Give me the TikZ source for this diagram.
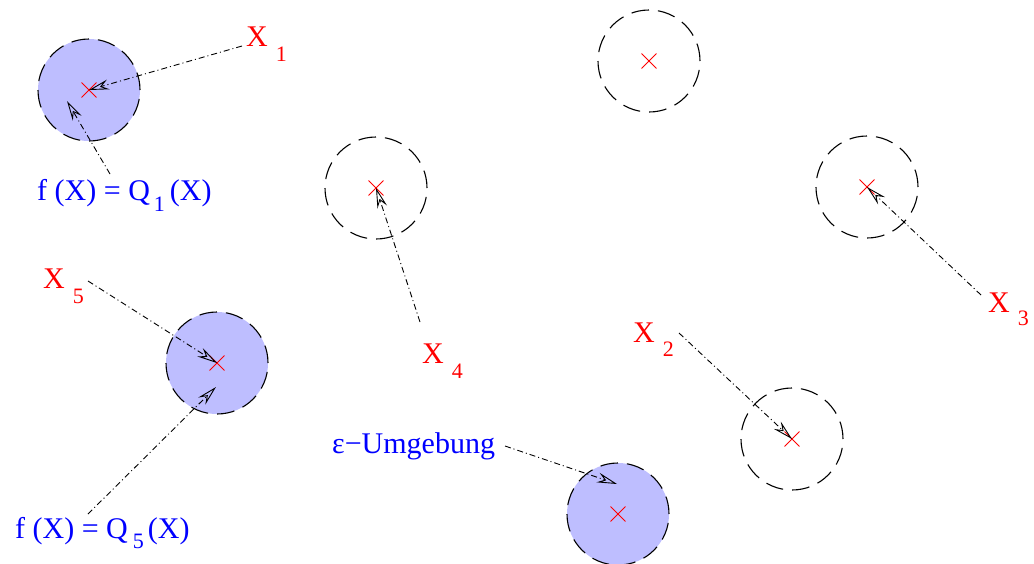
\documentclass[tikz,border=0pt]{standalone}
\usepackage{fontspec}
\setmainfont{Liberation Serif}
\usetikzlibrary{arrows.meta,shapes.misc}
\definecolor{zone}{RGB}{190,190,255}
\newcommand\subx[2][15pt]{\hspace{8pt}\raisebox{-#1}{\fontsize{22}{24}\selectfont #2}}
\begin{document}
\begin{tikzpicture}[x=1pt,y=-1pt,
  zonecirc/.style={circle, draw=black, line width=1.1pt, dash pattern=on 17.7pt off 9pt, minimum size=102pt, inner sep=0pt},
  filledzone/.style={zonecirc, fill=zone},
  pt/.style={cross out, draw=red, line width=0.9pt, minimum size=14pt, inner sep=0pt},
  ptr/.style={line width=0.9pt, dash pattern=on 6pt off 3pt on 1pt off 3pt, -{Stealth[open,length=20pt,width=10pt,inset=7pt]}},
  xlab/.style={text=red, anchor=base west, inner sep=0pt, font=\fontsize{30}{36}\selectfont},
  qlab/.style={text=blue, anchor=base west, inner sep=0pt, font=\fontsize{30}{36}\selectfont}]
\useasboundingbox (0,0) rectangle (1034,563);

% circles
\node[filledzone] (c1) at (89,90) {};
\node[zonecirc] (c6) at (649,61) {};
\node[zonecirc] (c4) at (376,188) {};
\node[zonecirc] (c3) at (867,187) {};
\node[filledzone] (c5) at (217,363) {};
\node[zonecirc] (c2) at (792,439) {};
\node[filledzone] (ce) at (618,514) {};

% points
\node[pt] (p1) at (c1.center) {};
\node[pt] (p6) at (c6.center) {};
\node[pt] (p4) at (c4.center) {};
\node[pt] (p3) at (c3.center) {};
\node[pt] (p5) at (c5.center) {};
\node[pt] (p2) at (c2.center) {};
\node[pt] (pe) at (ce.center) {};

% labels
\node[xlab] (x1) at (246,46) {X\subx{1}};
\node[xlab] (x2) at (633,342) {X\subx[14pt]{2}};
\node[xlab] (x3) at (988,312) {X\subx[13pt]{3}};
\node[xlab] (x4) at (422,363) {X\subx{4}};
\node[xlab] (x5) at (43,288) {X\subx{5}};
\node[qlab] (q1) at (37,200) {f (X) = Q\hspace{4pt}\raisebox{-11pt}{\fontsize{22}{24}\selectfont 1}\hspace{5pt}(X)};
\node[qlab] (q5) at (15,538) {f (X) = Q\hspace{5pt}\raisebox{-10pt}{\fontsize{22}{24}\selectfont 5}\hspace{4pt}(X)};
\node[qlab] (eps) at (332,453) {ε−Umgebung};

% connector ends
\coordinate (s1) at (242,46);
\coordinate (sq1) at (110,174);
\coordinate (t1) at (67,101);
\coordinate (s5) at (88,281);
\coordinate (sq5) at (88,514);
\coordinate (t5) at (216,387);
\coordinate (s4) at (420,322);
\coordinate (seps) at (505,446);
\coordinate (teps) at (617,484);
\coordinate (s2) at (679,333);
\coordinate (s3) at (981,295);

% connectors
\draw[ptr] (s1) -- (p1.center);
\draw[ptr] (sq1) -- (t1);
\draw[ptr] (s5) -- (p5.center);
\draw[ptr] (sq5) -- (t5);
\draw[ptr] (s4) -- (p4.center);
\draw[ptr] (seps) -- (teps);
\draw[ptr] (s2) -- (p2.center);
\draw[ptr] (s3) -- (p3.center);
\end{tikzpicture}
\end{document}
